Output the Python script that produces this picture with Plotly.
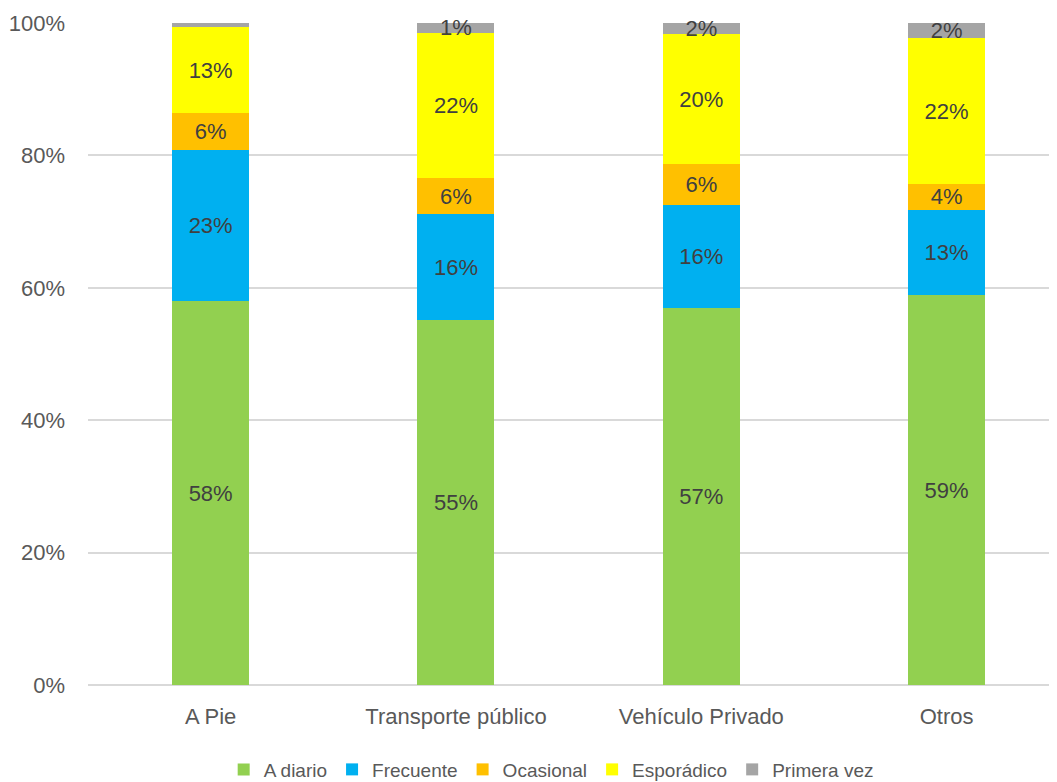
import plotly.graph_objects as go

categories = ["A Pie", "Transporte público", "Vehículo Privado", "Otros"]
series_names = ["A diario", "Frecuente", "Ocasional", "Esporádico", "Primera vez"]
a_diario = [0.580, 0.551, 0.569, 0.589]
frecuente = [0.228, 0.160, 0.156, 0.129]
ocasional = [0.056, 0.055, 0.062, 0.039]
esporadico = [0.130, 0.219, 0.196, 0.220]
primera_vez = [0.006, 0.015, 0.017, 0.023]
labels_a_diario = ["58%", "55%", "57%", "59%"]
labels_frecuente = ["23%", "16%", "16%", "13%"]
labels_ocasional = ["6%", "6%", "6%", "4%"]
labels_esporadico = ["13%", "22%", "20%", "22%"]
labels_primera_vez = ["", "1%", "2%", "2%"]
colors = ["#92D050", "#00B0F0", "#FFC000", "#FFFF00", "#A5A5A5"]
y_ticks = [0, 0.2, 0.4, 0.6, 0.8, 1.0]
y_tick_labels = ["0%", "20%", "40%", "60%", "80%", "100%"]

FONT = "Liberation Sans Narrow, Arial Narrow, Liberation Sans, Arial, sans-serif"

fig = go.Figure()
for name, vals, labs, col in zip(
    series_names,
    [a_diario, frecuente, ocasional, esporadico, primera_vez],
    [labels_a_diario, labels_frecuente, labels_ocasional, labels_esporadico, labels_primera_vez],
    colors,
):
    fig.add_trace(go.Bar(
        x=categories, y=vals, name=name, marker=dict(color=col, line=dict(width=0)),
        text=labs, textposition="inside", insidetextanchor="middle",
        textfont=dict(family=FONT, size=22, color="#404040"),
        textangle=0, constraintext="none", cliponaxis=False,
        hoverinfo="skip",
    ))

fig.update_layout(
    barmode="stack",
    bargap=0.686,
    width=1049, height=774,
    margin=dict(l=80, r=0, t=15, b=97, autoexpand=False),
    paper_bgcolor="white", plot_bgcolor="white",
    font=dict(family=FONT, size=22, color="#595959"),
    showlegend=True,
    legend=dict(orientation="h", x=0.478, xanchor="center", y=-0.099, yanchor="top",
                font=dict(family=FONT, size=19, color="#595959"),
                itemwidth=30, traceorder="normal", itemclick=False),
    xaxis=dict(range=[-0.5, 3.45], showgrid=False, showline=False, ticks="",
               automargin=False, ticklabelstandoff=16,
               tickfont=dict(family=FONT, size=22, color="#595959")),
    yaxis=dict(range=[0, 1.0], tickvals=y_ticks, ticktext=y_tick_labels,
               showgrid=True, gridcolor="#D9D9D9", gridwidth=1.5,
               zeroline=True, zerolinecolor="#D9D9D9", zerolinewidth=1.5,
               showline=False, ticks="", ticklabelstandoff=22, automargin=False,
               tickfont=dict(family=FONT, size=22, color="#595959")),
)

fig.write_html("out.html")
